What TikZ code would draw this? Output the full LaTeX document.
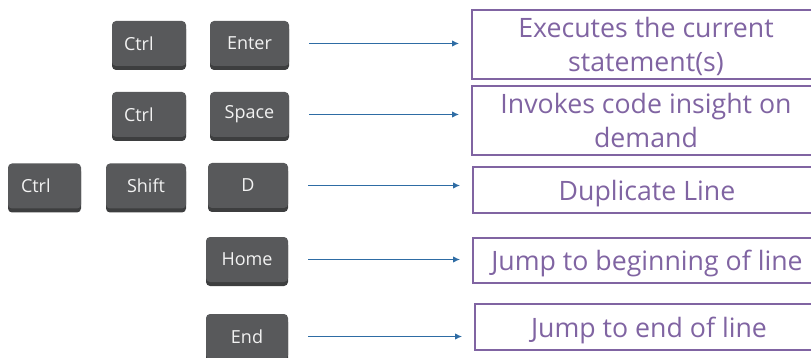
\documentclass[tikz,border=0pt]{standalone}
\usepackage{fontspec}
\setmainfont{Open Sans}
\usetikzlibrary{arrows.meta,shadows}
\definecolor{keygray}{HTML}{58595B}
\definecolor{keyshade}{HTML}{3D3E3F}
\definecolor{keytext}{HTML}{F2F2F2}
\definecolor{arrowblue}{HTML}{2E6CA4}
\definecolor{descpurple}{HTML}{8064A2}

\begin{document}
\begin{tikzpicture}[x=1pt, y=-1pt,
    key/.style={fill=keygray, rounded corners=4pt, minimum height=45pt, inner sep=0pt,
        text=keytext, font=\fontsize{18}{22}\selectfont,
        general shadow={fill=keyshade, shadow xshift=0pt, shadow yshift=-4pt}},
    desc/.style={draw=descpurple, line width=1.8pt, minimum width=348pt, inner sep=0pt,
        align=center, text depth=0pt, text=descpurple, font=\fontsize{26.7}{34}\selectfont},
    arr/.style={arrowblue, line width=1.4pt, -{Latex[length=7pt,width=6.5pt]},
        shorten <=20pt, shorten >=12pt}]
\useasboundingbox (0,0) rectangle (811,358);

% Keys
\node[key, minimum width=74pt, text width=50pt, align=left] (ctrla) at (149,43.5) {Ctrl};
\node[key, minimum width=79pt] (enter) at (249.5,43.5) {Enter};
\node[key, minimum width=74pt, text width=50pt, align=left] (ctrlb) at (149,114.5) {Ctrl};
\node[key, minimum width=79pt] (space) at (249.5,114.5) {Space};
\node[key, minimum width=73pt, text width=47pt, align=left] (ctrlc) at (44.5,186) {Ctrl};
\node[key, minimum width=80pt] (shift) at (146,186) {Shift};
\node[key, minimum width=80pt] (dkey) at (248,185.5) {D};
\node[key, minimum width=82pt] (home) at (247,259.5) {Home};
\node[key, minimum width=82pt] (endkey) at (247,336.5) {End};

% Descriptions
\node[desc, minimum height=69pt] (exec) at (646,44.5) {Executes the current\\statement(s)};
\node[desc, minimum height=69pt] (insight) at (646,120.5) {Invokes code insight on\\demand};
\node[desc, minimum height=46pt] (dup) at (647,190) {Duplicate Line};
\node[desc, minimum height=45pt] (linestart) at (647,260.5) {Jump to beginning of line};
\node[desc, minimum height=46pt] (lineend) at (649,327) {Jump to end of line};

% Arrows
\foreach \k/\d in {enter/exec, space/insight, dkey/dup, home/linestart, endkey/lineend}
    \draw[arr] (\k.east) -- (\k.east -| \d.west);

\end{tikzpicture}
\end{document}
